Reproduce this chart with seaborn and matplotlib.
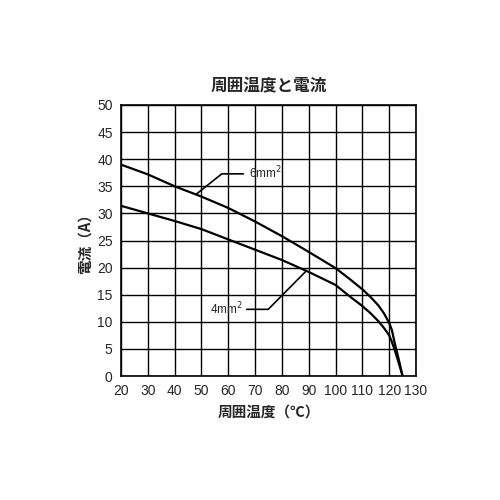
import seaborn as sns
import matplotlib.pyplot as plt
import pandas as pd

# values
temp_6mm = [20, 30, 40, 50, 60, 70, 80, 90, 100, 105, 110, 113, 116, 118, 120, 121, 122, 123.5, 125]
current_6mm = [39.0, 37.2, 35.0, 33.1, 31.0, 28.5, 25.8, 22.9, 19.9, 18.0, 16.0, 14.6, 13.0, 11.6, 9.8, 8.5, 6.2, 3.2, 0.0]
temp_4mm = [20, 30, 40, 50, 60, 70, 80, 90, 100, 105, 110, 113, 116, 118, 120, 121, 122, 123.5, 125]
current_4mm = [31.4, 30.0, 28.6, 27.1, 25.2, 23.3, 21.4, 19.2, 16.8, 14.8, 12.9, 11.6, 10.1, 8.9, 7.5, 6.3, 4.9, 2.5, 0.0]

x_ticks = list(range(20, 131, 10))
y_ticks = list(range(0, 51, 5))

df = pd.concat([
    pd.DataFrame({'temp': temp_6mm, 'current': current_6mm, 'size': '6mm²'}),
    pd.DataFrame({'temp': temp_4mm, 'current': current_4mm, 'size': '4mm²'}),
])

sns.set_style('white')
plt.rcParams['font.family'] = ['Noto Sans CJK JP', 'DejaVu Sans']

fig = plt.figure(figsize=(5, 5), dpi=100)
ax = fig.add_axes([0.242, 0.248, 0.59, 0.542])

sns.lineplot(data=df, x='temp', y='current', hue='size', ax=ax,
             palette=['black', 'black'], linewidth=1.6, legend=False,
             sort=False, estimator=None)

ax.set_xlim(20, 130)
ax.set_ylim(0, 50)
ax.set_xticks(x_ticks)
ax.set_yticks(y_ticks)
ax.grid(True, color='black', linewidth=1.0)
for s in ax.spines.values():
    s.set_color('black')
    s.set_linewidth(1.2)
ax.tick_params(length=0, labelsize=10, pad=6)
for lbl in ax.get_xticklabels() + ax.get_yticklabels():
    lbl.set_family(['Liberation Sans', 'DejaVu Sans'])

# leader lines and labels
ax.plot([48.2, 57.6, 65.6], [33.6, 37.3, 37.3], color='black', linewidth=1.2)
ax.text(67.8, 37.4, '6mm$^2$', fontsize=8.5, va='center', ha='left',
        family=['Liberation Sans', 'DejaVu Sans'])
ax.plot([88.7, 74.9, 66.9], [19.2, 12.3, 12.3], color='black', linewidth=1.2)
ax.text(65.5, 12.3, '4mm$^2$', fontsize=8.5, va='center', ha='right',
        family=['Liberation Sans', 'DejaVu Sans'])

ax.set_xlabel('周囲温度（℃）', fontsize=10.5, fontweight='bold', labelpad=4)
ax.set_ylabel('電流（A）', fontsize=10.5, fontweight='bold', labelpad=3)
ax.set_title('周囲温度と電流', fontsize=12, fontweight='bold', pad=10)

fig.savefig('out.png', dpi=100, facecolor='white')
